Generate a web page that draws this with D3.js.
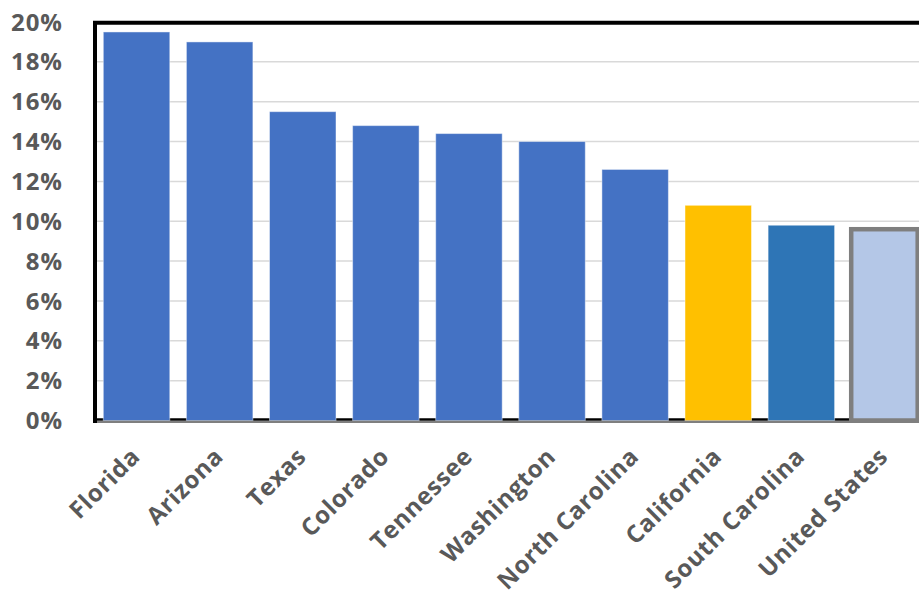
<!DOCTYPE html>
<html>
<head>
<meta charset="utf-8">
<script src="https://d3js.org/d3.v7.min.js"></script>
<style>
  body { margin: 0; background: #fff; }
  text { font-family: "Open Sans", "Noto Sans", sans-serif; font-weight: bold; fill: #595959; }
</style>
</head>
<body>
<script>
// states and their values (percent)
const states = ["Florida", "Arizona", "Texas", "Colorado", "Tennessee", "Washington",
                "North Carolina", "California", "South Carolina", "United States"];
const values = [19.5, 19.0, 15.5, 14.8, 14.4, 14.0, 12.6, 10.8, 9.8, 9.6];
const yTicks = [0, 2, 4, 6, 8, 10, 12, 14, 16, 18, 20];

const data = states.map(function(s, i) { return {state: s, value: values[i]}; });

const W = 919, H = 600;
const plotLeft = 95, plotTop = 22, plotBottom = 420.5;

const svg = d3.select("body").append("svg")
  .attr("width", W)
  .attr("height", H);

// x scale runs a bit past the right edge, like the original
const x = d3.scaleBand()
  .domain(states)
  .range([plotLeft, 926])
  .paddingInner(0.2)
  .paddingOuter(0.1);

const y = d3.scaleLinear()
  .domain([0, 20])
  .range([plotBottom, plotTop]);

// gridlines
svg.append("g")
  .selectAll("line")
  .data(yTicks.filter(function(d) { return d > 0; }))
  .enter().append("line")
  .attr("x1", plotLeft)
  .attr("x2", W)
  .attr("y1", function(d) { return y(d); })
  .attr("y2", function(d) { return y(d); })
  .attr("stroke", "#d9d9d9")
  .attr("stroke-width", 1.5);

// black baseline that sits under the bars
svg.append("line")
  .attr("x1", plotLeft).attr("x2", W)
  .attr("y1", plotBottom - 1).attr("y2", plotBottom - 1)
  .attr("stroke", "#000")
  .attr("stroke-width", 2.5);

// bar colours
function barColour(d) {
  if (d.state == "California") return "#ffc000";
  if (d.state == "South Carolina") return "#2e75b6";
  if (d.state == "United States") return "#b4c7e7";
  return "#4472c4";
}

svg.append("g")
  .selectAll("rect")
  .data(data)
  .enter().append("rect")
  .attr("x", function(d) { return x(d.state); })
  .attr("y", function(d) { return y(d.value); })
  .attr("width", x.bandwidth())
  .attr("height", function(d) { return y(0) - y(d.value); })
  .attr("fill", barColour)
  .attr("stroke", function(d) { return d.state == "United States" ? "#7f7f7f" : "#ffffff"; })
  .attr("stroke-opacity", function(d) { return d.state == "United States" ? 1 : 0.45; })
  .attr("stroke-width", function(d) { return d.state == "United States" ? 4.5 : 1; });

// gray axis line under everything
svg.append("line")
  .attr("x1", plotLeft).attr("x2", W)
  .attr("y1", plotBottom + 1.5).attr("y2", plotBottom + 1.5)
  .attr("stroke", "#7f7f7f")
  .attr("stroke-width", 2);

// heavy black frame on left and top
svg.append("line")
  .attr("x1", plotLeft).attr("x2", plotLeft)
  .attr("y1", plotTop - 1).attr("y2", plotBottom + 2.5)
  .attr("stroke", "#000")
  .attr("stroke-width", 4);
svg.append("line")
  .attr("x1", plotLeft - 2).attr("x2", W)
  .attr("y1", plotTop + 0.7).attr("y2", plotTop + 0.7)
  .attr("stroke", "#000")
  .attr("stroke-width", 4);

// y labels
svg.append("g")
  .selectAll("text")
  .data(yTicks)
  .enter().append("text")
  .attr("x", 63)
  .attr("y", function(d) { return y(d); })
  .attr("dy", "0.36em")
  .attr("text-anchor", "end")
  .style("font-size", "24px")
  .style("letter-spacing", "1px")
  .text(function(d) { return d + "%"; });

// x labels, rotated
svg.append("g")
  .selectAll("text")
  .data(states)
  .enter().append("text")
  .attr("transform", function(d) {
    return "translate(" + (x(d) + x.bandwidth() / 2 + 5) + ",458) rotate(-45)";
  })
  .attr("text-anchor", "end")
  .style("font-size", "24px")
  .style("letter-spacing", "0.7px")
  .text(function(d) { return d; });
</script>
</body>
</html>
